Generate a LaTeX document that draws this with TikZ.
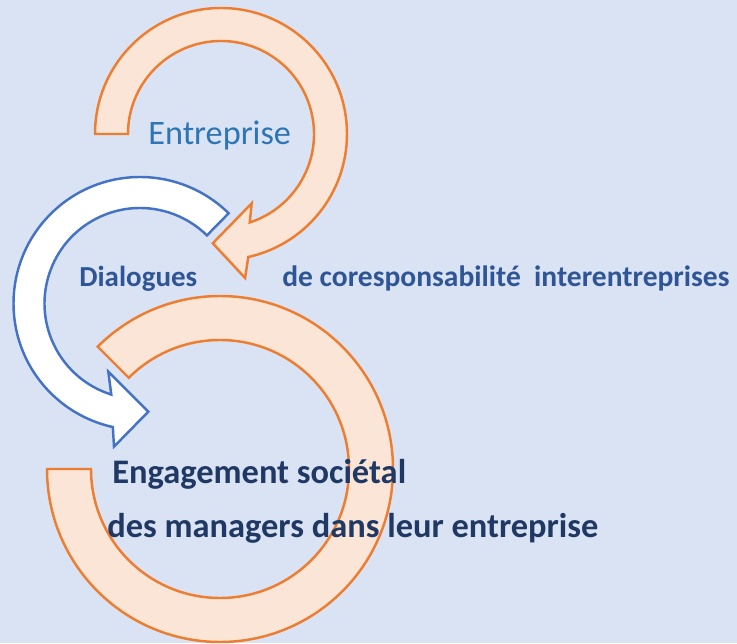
\documentclass[tikz,border=0pt]{standalone}
\usepackage{fontspec}
\setmainfont{Carlito}
\usetikzlibrary{calc}
\definecolor{bgblue}{RGB}{218,227,243}
\definecolor{bandorange}{RGB}{237,125,49}
\definecolor{bandfill}{RGB}{251,229,214}
\definecolor{arrowblue}{RGB}{68,114,196}
\definecolor{entrblue}{RGB}{46,117,182}
\definecolor{dialblue}{RGB}{47,85,151}
\definecolor{engnavy}{RGB}{31,56,100}
\begin{document}
\begin{tikzpicture}[x=0.02cm, y=0.02cm,
  orangeband/.style={draw=bandorange, fill=bandfill, line width=1.4pt},
  blueband/.style={draw=arrowblue, fill=white, line width=1.4pt},
  every node/.style={inner sep=0pt, anchor=base west}]
\fill[bgblue] (0,0) rectangle (737,643);
\useasboundingbox (0,0) rectangle (737,643);

\coordinate (entreprise) at (221,509);
\coordinate (dialogues) at (140,339.5);
\coordinate (engagement) at (220,174);

\draw[orangeband] (engagement) ++(180:173) arc[start angle=180, end angle=495, radius=173]
  -- ($(engagement)+(135:129)$) arc[start angle=135, end angle=-180, radius=129] -- cycle;

\draw[orangeband] (entreprise) ++(180:126) arc[start angle=180, end angle=-77.5, radius=126]
  -- ($(entreprise)+(-80.5:146)$) -- ($(entreprise)+(-94.3:109.6)$)
  -- ($(entreprise)+(-66.1:75.8)$) -- ($(entreprise)+(-72:93)$)
  arc[start angle=-72, end angle=180, radius=93] -- cycle;

\draw[blueband] (dialogues) ++(45.5:126.5) arc[start angle=45.5, end angle=257.6, radius=126.5]
  -- ($(dialogues)+(259.7:145.5)$) -- ($(dialogues)+(274.4:108.5)$)
  -- ($(dialogues)+(245.1:75.2)$) -- ($(dialogues)+(252.5:95.5)$)
  arc[start angle=252.5, end angle=45.5, radius=95.5] -- cycle;

\node[font=\fontsize{19.5}{23}\selectfont, text=entrblue] (entreprise-label) at (148,498) {Entreprise};
\node[font=\fontsize{16.5}{20}\selectfont\bfseries, text=dialblue] (dialogues-label) at (79,356) {Dialogues};
\node[font=\fontsize{16.8}{20}\selectfont\bfseries, text=dialblue] (coresp-label) at (282,356) {de coresponsabilité~ interentreprises};
\node[font=\fontsize{19.6}{23}\selectfont\bfseries, text=engnavy] (engagement-label) at (112,160) {Engagement sociétal};
\node[font=\fontsize{19.6}{23}\selectfont\bfseries, text=engnavy] (managers-label) at (107,106) {des managers dans leur entreprise};
\end{tikzpicture}
\end{document}
